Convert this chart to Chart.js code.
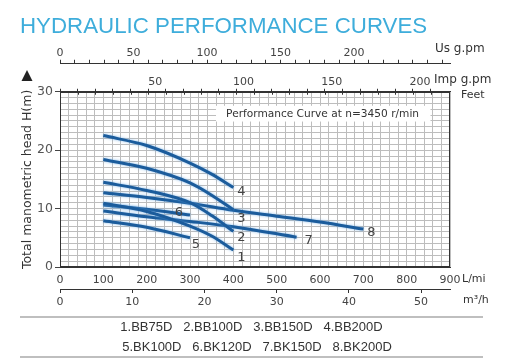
<!DOCTYPE html>
<html><head><meta charset="utf-8">
<script src="https://cdn.jsdelivr.net/npm/chart.js@4/dist/chart.umd.min.js"></script>
<style>html,body{margin:0;padding:0;background:#fff}</style>
</head><body>
<canvas id="c" width="506" height="359"></canvas>
<script>
// ---- data ----
const models = ['BB75D','BB100D','BB150D','BB200D','BK100D','BK120D','BK150D','BK200D'];
const flow1 = [100,200,300,350,400];         const head1 = [10.9,9.5,7.0,5.3,2.9];
const flow2 = [100,200,300,350,400];         const head2 = [14.5,13.1,11.0,8.8,6.1];
const flow3 = [100,200,300,350,400];         const head3 = [18.4,16.9,14.4,12.3,9.8];
const flow4 = [100,200,300,350,400];         const head4 = [22.5,20.8,17.8,15.9,13.6];
const flow5 = [100,200,300];                 const head5 = [7.9,6.8,5.0];
const flow6 = [100,200,300];                 const head6 = [10.6,9.9,8.9];
const flow7 = [100,200,300,400,546];         const head7 = [9.6,8.6,7.8,6.9,5.1];
const flow8 = [100,200,300,400,500,600,700]; const head8 = [12.7,11.9,10.9,9.7,8.7,7.7,6.5];
const flowTicks = [0,100,200,300,400,500,600,700,800,900];
const headTicks = [0,10,20,30];
const usTicks   = [0,50,100,150,200];
const impTicks  = [50,100,150,200];
const m3hTicks  = [0,10,20,30,40,50];
const noteText  = 'Performance Curve at n=3450 r/min';

// ---- styles ----
Chart.defaults.font.family = 'DejaVu Sans';
const curveColor = '#1b5c9c';
const gridColor = '#bdbdbd';
const axisColor = '#333';
const flows = [flow1,flow2,flow3,flow4,flow5,flow6,flow7,flow8];
const heads = [head1,head2,head3,head4,head5,head6,head7,head8];
// label offset (px) from each curve's last point
const labelOffsets = [[8,8],[8,6],[8,9],[8,4],[6,7],[-11,-2],[12,3],[8,4]];

const datasets = flows.map((f,i)=>({
  label: models[i],
  data: f.map((q,j)=>({x:q, y:heads[i][j]})),
  borderColor: curveColor, borderWidth: 3, pointRadius: 0,
  cubicInterpolationMode: 'monotone', fill: false,
  xAxisID: 'x', yAxisID: 'y'
}));

const zeroPad = s => { s.paddingLeft = 0; s.paddingRight = 0; };
const tickFont = {size: 11};

const decor = {
  id: 'decor',
  beforeDatasetsDraw(chart) {
    const {ctx, scales:{x, y}} = chart;
    const l = x.getPixelForValue(360), r = x.getPixelForValue(855);
    const t = y.getPixelForValue(27.6), b = y.getPixelForValue(24.9);
    ctx.save();
    ctx.fillStyle = '#fff';
    ctx.fillRect(l, t, r - l, b - t);
    ctx.fillStyle = '#333';
    ctx.font = '10.6px "DejaVu Sans"';
    ctx.textAlign = 'center'; ctx.textBaseline = 'middle';
    ctx.fillText(noteText, x.getPixelForValue(606), y.getPixelForValue(26.2));
    ctx.restore();
  },
  beforeDatasetDraw(chart) {
    const ctx = chart.ctx;
    ctx.save();
    ctx.shadowColor = 'rgba(90,160,225,0.7)';
    ctx.shadowBlur = 3;
  },
  afterDatasetDraw(chart) { chart.ctx.restore(); },
  afterDatasetsDraw(chart) {
    const {ctx, scales:{x, y}} = chart;
    ctx.save();
    ctx.fillStyle = '#444';
    ctx.font = '13px "DejaVu Sans"';
    ctx.textAlign = 'center'; ctx.textBaseline = 'middle';
    flows.forEach((f,i)=>{
      const n = f.length - 1;
      const px = x.getPixelForValue(f[n]) + labelOffsets[i][0];
      const py = y.getPixelForValue(heads[i][n]) + labelOffsets[i][1];
      ctx.fillText(String(i+1), px, py);
    });
    ctx.restore();
  },
  afterDraw(chart) {
    const {ctx, chartArea:ca} = chart;
    ctx.save();
    // plot frame
    ctx.strokeStyle = axisColor; ctx.lineWidth = 1;
    ctx.strokeRect(Math.round(ca.left)+0.5, Math.round(ca.top)+0.5, Math.round(ca.right-ca.left)-1, Math.round(ca.bottom-ca.top)-1);
    // inner part of Imp g.pm ticks
    const s = chart.scales.xImp;
    ctx.beginPath();
    s.ticks.forEach(tk=>{
      if (tk.value > 0 && tk.value % 10 === 0 && tk.value < 215) {
        const px = Math.round(s.getPixelForValue(tk.value)) + 0.5;
        ctx.moveTo(px, ca.top); ctx.lineTo(px, ca.top + 3);
      }
    });
    ctx.stroke();
    // unit labels
    ctx.fillStyle = '#333';
    ctx.textAlign = 'left'; ctx.textBaseline = 'middle';
    ctx.font = '12px "DejaVu Sans"';
    ctx.fillText('Us g.pm', 435, 49);
    ctx.fillText('Imp g.pm', 434, 80);
    ctx.font = '11px "DejaVu Sans"';
    ctx.fillText('Feet', 461, 95);
    ctx.fillText('L/mi', 462, 279);
    ctx.fillText('m³/h', 463, 300);
    // arrow
    ctx.beginPath();
    ctx.moveTo(27, 70); ctx.lineTo(32.5, 81); ctx.lineTo(21.5, 81); ctx.closePath();
    ctx.fillStyle = '#222'; ctx.fill();
    // legend block
    ctx.strokeStyle = '#aaa'; ctx.lineWidth = 1.5;
    ctx.beginPath();
    ctx.moveTo(20, 317); ctx.lineTo(483, 317);
    ctx.moveTo(20, 357); ctx.lineTo(483, 357);
    ctx.stroke();
    ctx.fillStyle = '#333';
    ctx.font = '13px "Liberation Sans"';
    ctx.textAlign = 'center';
    const l1 = models.slice(0,4).map((m,i)=>(i+1)+'.'+m).join('   ');
    const l2 = models.slice(4).map((m,i)=>(i+5)+'.'+m).join('   ');
    ctx.fillText(l1, 251.5, 327.5);
    ctx.fillText(l2, 257, 347);
    ctx.restore();
  }
};

new Chart(document.getElementById('c'), {
  type: 'line',
  data: { datasets },
  plugins: [decor],
  options: {
    responsive: false, animation: false,
    layout: { padding: { left: 20, right: 56, top: 0, bottom: 50 } },
    plugins: {
      legend: { display: false }, tooltip: { enabled: false },
      title: { display: true, text: 'HYDRAULIC PERFORMANCE CURVES', align: 'start',
        color: '#3eaddb', font: { family: 'Liberation Sans', size: 22.3, weight: 'normal' },
        padding: { top: 13, bottom: 0 } }
    },
    scales: {
      x: { type: 'linear', position: 'bottom', weight: 1, min: 0, max: 900,
        afterFit(s){ s.height = 22; zeroPad(s); },
        ticks: { stepSize: 20, autoSkip: false, maxRotation: 0, padding: 7, color: '#444', font: tickFont,
          callback: v => flowTicks.includes(v) ? String(v) : '' },
        grid: { color: gridColor, lineWidth: 1, drawTicks: false },
        border: { display: true, color: axisColor, width: 1 } },
      xM3: { type: 'linear', axis: 'x', position: 'bottom', weight: 2, bounds: 'data', min: 0, max: 54,
        afterFit(s){ s.height = 20; zeroPad(s); },
        ticks: { stepSize: 10, includeBounds: false, autoSkip: false, maxRotation: 0, padding: 3, color: '#444', font: tickFont,
          callback: v => m3hTicks.includes(v) ? String(v) : '' },
        grid: { drawOnChartArea: false, tickLength: 4, color: axisColor,
          tickColor: c => (c.tick && m3hTicks.includes(c.tick.value)) ? axisColor : 'transparent' },
        border: { display: true, color: axisColor } },
      xImp: { type: 'linear', axis: 'x', position: 'top', weight: 1, bounds: 'data', min: 0, max: 221,
        afterFit(s){ s.height = 28; zeroPad(s); },
        ticks: { stepSize: 10, includeBounds: false, autoSkip: false, maxRotation: 0, padding: 0, labelOffset: 7, color: '#444', font: tickFont,
          callback: v => impTicks.includes(v) ? String(v) : '' },
        grid: { drawOnChartArea: false, tickLength: 3, color: axisColor,
          tickColor: c => (c.tick && c.tick.value % 10 === 0 && c.tick.value < 215) ? axisColor : 'transparent' },
        border: { display: true, color: axisColor } },
      xUS: { type: 'linear', axis: 'x', position: 'top', weight: 2, bounds: 'data', min: 0, max: 265.3,
        afterFit(s){ s.height = 24; zeroPad(s); },
        ticks: { stepSize: 10, includeBounds: false, autoSkip: false, maxRotation: 0, padding: 0, color: '#444', font: tickFont,
          callback: v => usTicks.includes(v) ? String(v) : '' },
        grid: { drawOnChartArea: false, tickLength: 4, color: axisColor,
          tickColor: c => (c.tick && c.tick.value % 10 === 0) ? axisColor : 'transparent' },
        border: { display: true, color: axisColor } },
      y: { type: 'linear', position: 'left', min: 0, max: 30,
        afterFit(s){ s.width = 40; },
        ticks: { stepSize: 1, autoSkip: false, padding: 2, color: '#555', font: { size: 12.5 },
          callback: v => headTicks.includes(v) ? String(v) : '' },
        grid: { color: gridColor, lineWidth: 1, tickLength: 5,
          tickColor: c => (c.tick && headTicks.includes(c.tick.value)) ? '#444' : 'transparent' },
        border: { display: true, color: axisColor },
        title: { display: true, text: 'Total manometric head H(m)', color: '#333',
          font: { size: 12.5 }, padding: { top: 0, bottom: 0 } } }
    }
  }
});
</script>
</body></html>
